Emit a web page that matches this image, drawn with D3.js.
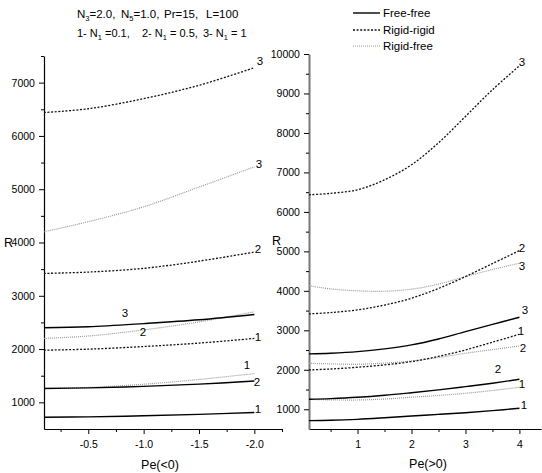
<!DOCTYPE html>
<html>
<head>
<meta charset="utf-8">
<script src="https://cdn.jsdelivr.net/npm/d3@7"></script>
<style>
  body { margin: 0; background: #fff; }
  text { font-family: Arial, "Liberation Sans", sans-serif; fill: #000; white-space: pre; }
</style>
</head>
<body>
<svg id="chart" width="542" height="473"></svg>
<script>
// ---- data (Pe < 0 panel) ----
const peNeg = [-0.1, -0.5, -1.0, -1.5, -2.0];
const ffNeg1 = [720, 728, 748, 775, 810];
const ffNeg2 = [1260, 1272, 1300, 1342, 1400];
const ffNeg3 = [2400, 2418, 2478, 2550, 2650];
const rrNeg1 = [1980, 1998, 2048, 2112, 2200];
const rrNeg2 = [3420, 3445, 3515, 3650, 3820];
const rrNeg3 = [6440, 6510, 6700, 6950, 7280];
const rfNeg1 = [1260, 1280, 1340, 1430, 1540];
const rfNeg2 = [2200, 2245, 2360, 2510, 2700];
const rfNeg3 = [4200, 4390, 4670, 5040, 5420];

// ---- data (Pe > 0 panel) ----
const pePos = [0.1, 0.5, 1, 1.5, 2, 2.5, 3, 3.5, 4];
const ffPos1 = [711, 720, 745, 785, 830, 870, 913, 965, 1025];
const ffPos2 = [1253, 1270, 1304, 1355, 1420, 1490, 1573, 1660, 1760];
const ffPos3 = [2402, 2420, 2460, 2530, 2630, 2780, 2967, 3150, 3332];
const rrPos1 = [1996, 2020, 2064, 2125, 2207, 2340, 2503, 2700, 2900];
const rrPos2 = [3416, 3450, 3517, 3640, 3814, 4060, 4362, 4690, 5020];
const rrPos3 = [6433, 6470, 6560, 6813, 7194, 7750, 8418, 9095, 9700];
const rfPos1 = [1250, 1238, 1235, 1260, 1304, 1350, 1405, 1475, 1557];
const rfPos2 = [2165, 2150, 2140, 2170, 2224, 2310, 2419, 2510, 2604];
const rfPos3 = [4130, 4050, 4000, 3990, 4042, 4170, 4362, 4540, 4700];

// ---- ticks ----
const yTicksL = [1000, 2000, 3000, 4000, 5000, 6000, 7000];
const yMinorL = [1500, 2500, 3500, 4500, 5500, 6500, 7500];
const xTicksL = [-0.5, -1.0, -1.5, -2.0];
const xMinorL = [-0.25, -0.75, -1.25, -1.75, -2.25];
const yTicksR = [1000, 2000, 3000, 4000, 5000, 6000, 7000, 8000, 9000, 10000];
const yMinorR = [1500, 2500, 3500, 4500, 5500, 6500, 7500, 8500, 9500];
const xTicksR = [1, 2, 3, 4];
const xMinorR = [0.5, 1.5, 2.5, 3.5];

const legendNames = ["Free-free", "Rigid-rigid", "Rigid-free"];

const svg = d3.select("#chart");
svg.append("rect").attr("width", 542).attr("height", 473).attr("fill", "#fff");

const styles = {
  ff: { stroke: "#000", width: 1.4, dash: null },
  rr: { stroke: "#111", width: 1.3, dash: "2,1.6" },
  rf: { stroke: "#9a9a9a", width: 1.2, dash: "1,1" }
};

// scales
const xL = d3.scaleLinear().domain([-0.1, -2.25]).range([44, 282]);
const yL = d3.scaleLinear().domain([500, 7500]).range([429, 56]);
const xR = d3.scaleLinear().domain([0.1, 4.4]).range([309, 541]);
const yR = d3.scaleLinear().domain([500, 10000]).range([429, 54]);

function axes(x, y, xt, xm, yt, ym, xFmt, yColor, yW) {
  const gx = svg.append("g").attr("transform", `translate(0,${y.range()[0]})`);
  gx.call(d3.axisBottom(x).tickValues(xt).tickFormat(xFmt).tickSize(5).tickSizeOuter(0));
  gx.append("g").call(d3.axisBottom(x).tickValues(xm).tickFormat("").tickSize(3).tickSizeOuter(0))
    .select(".domain").remove();
  gx.selectAll("text").attr("font-size", 10.5).attr("font-family", "Arial, Liberation Sans").attr("dy", "1.0em");
  gx.selectAll("line").attr("stroke", "#000");
  gx.select(".domain").attr("stroke", "#000").attr("stroke-width", 1.2);

  const gy = svg.append("g").attr("transform", `translate(${x.range()[0]},0)`);
  gy.call(d3.axisLeft(y).tickValues(yt).tickFormat(d => String(d)).tickSize(5).tickSizeOuter(0));
  gy.append("g").call(d3.axisLeft(y).tickValues(ym).tickFormat("").tickSize(3).tickSizeOuter(0))
    .select(".domain").remove();
  gy.selectAll("text").attr("font-size", 10.5).attr("font-family", "Arial, Liberation Sans").attr("dx", "-0.1em");
  gy.selectAll("line").attr("stroke", "#000");
  gy.select(".domain").attr("stroke", yColor).attr("stroke-width", yW);
}

axes(xL, yL, xTicksL, xMinorL, yTicksL, yMinorL, d => d.toFixed(1), "#000", 1.2);
axes(xR, yR, xTicksR, xMinorR, yTicksR, yMinorR, d => String(d), "#777", 2);

function draw(xs, vals, x, y, st) {
  const line = d3.line().x((d, i) => x(xs[i])).y(d => y(d)).curve(d3.curveCatmullRom.alpha(0.5));
  svg.append("path").datum(vals).attr("d", line)
    .attr("fill", "none").attr("stroke", st.stroke).attr("stroke-width", st.width)
    .attr("stroke-dasharray", st.dash);
}

draw(peNeg, rfNeg1, xL, yL, styles.rf);
draw(peNeg, rfNeg2, xL, yL, styles.rf);
draw(peNeg, rfNeg3, xL, yL, styles.rf);
draw(peNeg, rrNeg1, xL, yL, styles.rr);
draw(peNeg, rrNeg2, xL, yL, styles.rr);
draw(peNeg, rrNeg3, xL, yL, styles.rr);
draw(peNeg, ffNeg1, xL, yL, styles.ff);
draw(peNeg, ffNeg2, xL, yL, styles.ff);
draw(peNeg, ffNeg3, xL, yL, styles.ff);

draw(pePos, rfPos1, xR, yR, styles.rf);
draw(pePos, rfPos2, xR, yR, styles.rf);
draw(pePos, rfPos3, xR, yR, styles.rf);
draw(pePos, rrPos1, xR, yR, styles.rr);
draw(pePos, rrPos2, xR, yR, styles.rr);
draw(pePos, rrPos3, xR, yR, styles.rr);
draw(pePos, ffPos1, xR, yR, styles.ff);
draw(pePos, ffPos2, xR, yR, styles.ff);
draw(pePos, ffPos3, xR, yR, styles.ff);

// curve labels
const lab = (x, y, t) => svg.append("text").attr("x", x).attr("y", y)
  .attr("font-size", 11.5).attr("text-anchor", "middle").attr("dominant-baseline", "central").text(t);
lab(260, 61, "3"); lab(259, 164, "3"); lab(258, 249, "2");
lab(125, 313, "3"); lab(143, 332, "2"); lab(258, 337, "1");
lab(247, 365, "1"); lab(257, 382, "2"); lab(258, 409, "1");
lab(522, 62, "3"); lab(522, 248, "2"); lab(522, 266, "3");
lab(525, 310, "3"); lab(521, 331, "1"); lab(523, 348, "2");
lab(498, 369, "2"); lab(522, 384, "1"); lab(524, 405, "1");

// axis titles
svg.append("text").attr("x", 160).attr("y", 469).attr("font-size", 12.5).attr("text-anchor", "middle").text("Pe(<0)");
svg.append("text").attr("x", 428).attr("y", 468).attr("font-size", 12.5).attr("text-anchor", "middle").text("Pe(>0)");
svg.append("text").attr("x", 4).attr("y", 247).attr("font-size", 12.5).text("R");
svg.append("text").attr("x", 272).attr("y", 245).attr("font-size", 12.5).text("R");

// header text
function chunk(x, y, fs, parts) {
  const t = svg.append("text").attr("x", x).attr("y", y).attr("font-size", fs);
  let down = false;
  parts.forEach(p => {
    if (p.sub) { t.append("tspan").attr("font-size", 7.5).attr("dy", 3).text(p.s); down = true; }
    else { t.append("tspan").attr("dy", down ? -3 : 0).text(p.s); down = false; }
  });
}
chunk(77, 18, 11.5, [{s: "N"}, {s: "3", sub: true}, {s: "=2.0,"}]);
chunk(121, 18, 11.5, [{s: "N"}, {s: "5", sub: true}, {s: "=1.0,"}]);
chunk(164, 18, 11.5, [{s: "Pr=15,"}]);
chunk(206, 18, 11.5, [{s: "L=100"}]);
chunk(77, 37, 11, [{s: "1- N"}, {s: "1", sub: true}, {s: " =0.1,"}]);
chunk(142, 37, 11, [{s: "2- N"}, {s: "1", sub: true}, {s: " = 0.5,"}]);
chunk(203, 37, 11, [{s: "3- N"}, {s: "1", sub: true}, {s: " = 1"}]);

// legend
const legStyles = [styles.ff, styles.rr, styles.rf];
legendNames.forEach((n, i) => {
  const yy = [13, 30, 46][i];
  const st = legStyles[i];
  svg.append("line").attr("x1", 353).attr("x2", 380).attr("y1", yy).attr("y2", yy)
    .attr("stroke", st.stroke).attr("stroke-width", st.width).attr("stroke-dasharray", st.dash);
  svg.append("text").attr("x", 383).attr("y", yy).attr("dominant-baseline", "central")
    .attr("font-size", 11.5).text(n);
});
</script>
</body>
</html>
